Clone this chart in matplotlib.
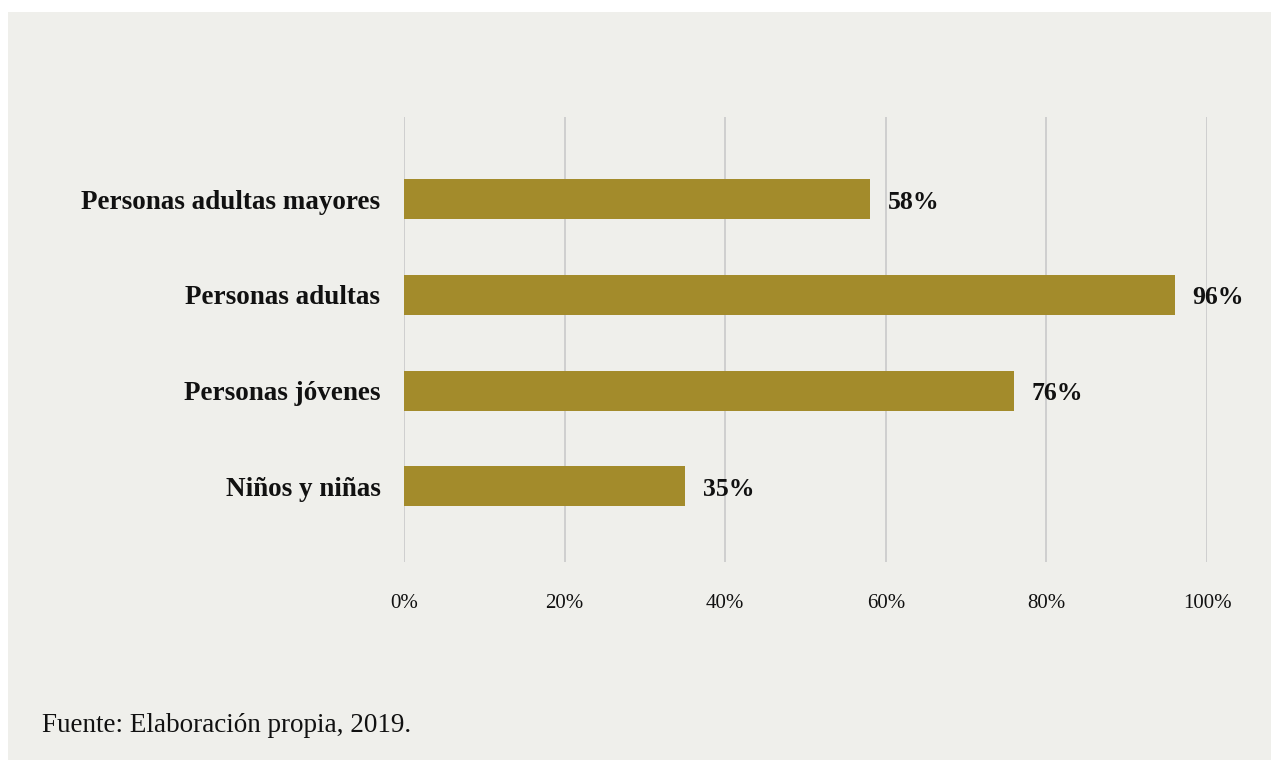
import matplotlib.pyplot as plt
from matplotlib.patches import Rectangle
from matplotlib.ticker import PercentFormatter

# Data
grupos = ["Niños y niñas", "Personas jóvenes", "Personas adultas", "Personas adultas mayores"]
porcentajes = [35, 76, 96, 58]
ticks_x = [0, 20, 40, 60, 80, 100]

fondo = "#efefeb"
color_barra = "#a38b2b"

plt.rcParams["font.family"] = ["Liberation Serif", "DejaVu Serif"]

fig = plt.figure(figsize=(12.73, 7.62), dpi=100)
fig.patch.set_facecolor("white")

# grey panel behind the chart
fig.patches.append(Rectangle((8 / 1273, 2 / 762), 1263 / 1273, 748 / 762,
                             transform=fig.transFigure, facecolor=fondo,
                             edgecolor="none", zorder=-1))

ax = fig.add_axes([404 / 1273, 200 / 762, 803 / 1273, 445 / 762])
ax.set_facecolor("none")

y = range(len(grupos))
ax.barh(y, porcentajes, height=0.42, color=color_barra, zorder=2)

for yi, v in zip(y, porcentajes):
    ax.text(v + 2.2, yi - 0.03, f"{v}%", va="center", ha="left",
            fontsize=18.5, fontweight="bold", color="#111111")

ax.set_xlim(0, 100)
ax.set_ylim(-0.79, 3.86)
ax.set_xticks(ticks_x)
ax.xaxis.set_major_formatter(PercentFormatter(decimals=0))
ax.set_yticks(list(y))
ax.set_yticklabels(grupos, fontsize=19.5, fontweight="bold", color="#111111")

ax.grid(axis="x", color="#cccccc", linewidth=1.3, zorder=0)
ax.set_axisbelow(True)
for s in ax.spines.values():
    s.set_visible(False)
ax.tick_params(axis="both", length=0)
ax.tick_params(axis="x", pad=23, labelsize=15, colors="#111111")
ax.tick_params(axis="y", pad=17)

fig.text(42 / 1273, 1 - 725 / 762, "Fuente: Elaboración propia, 2019.",
         fontsize=19.5, va="center", ha="left", color="#111111")

fig.savefig("out.png", dpi=100)
